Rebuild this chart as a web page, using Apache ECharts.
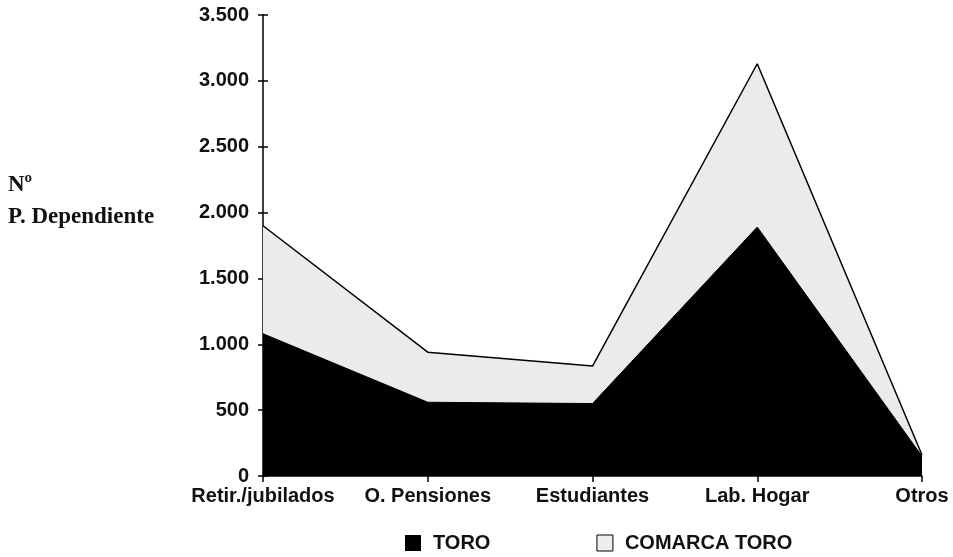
<!DOCTYPE html>
<html>
<head>
<meta charset="utf-8">
<script src="https://cdn.jsdelivr.net/npm/echarts@6/dist/echarts.min.js"></script>
<style>
html, body { margin: 0; padding: 0; background: #fff; }
#chart { width: 953px; height: 557px; }
</style>
</head>
<body>
<div id="chart"></div>
<script>
// datos
const categorias = ['Retir./jubilados', 'O. Pensiones', 'Estudiantes', 'Lab. Hogar', 'Otros'];
const toro = [1080, 560, 550, 1890, 150];
const comarcaToro = [1900, 940, 835, 3130, 160];
const yTicks = [0, 500, 1000, 1500, 2000, 2500, 3000, 3500];

const chart = echarts.init(document.getElementById('chart'));

const labelFont = {
  color: '#111',
  fontFamily: '"Liberation Sans", Arial, sans-serif',
  fontWeight: 'bold',
  fontSize: 20
};

function fmt(v) {
  return String(v).replace(/\B(?=(\d{3})+(?!\d))/g, '.');
}

chart.setOption({
  animation: false,
  grid: { left: 263, right: 31, top: 15, bottom: 81 },
  legend: {
    left: 405,
    top: 533,
    padding: 0,
    itemWidth: 16,
    itemHeight: 16,
    itemGap: 106,
    textStyle: Object.assign({}, labelFont, { fontSize: 20, padding: [0, 0, 0, 7] }),
    data: [
      { name: 'TORO', icon: 'rect', itemStyle: { color: '#000' } },
      { name: 'COMARCA TORO', icon: 'rect', itemStyle: { color: '#eeeeee', borderColor: '#000', borderWidth: 1 } }
    ]
  },
  xAxis: {
    type: 'category',
    boundaryGap: false,
    data: categorias,
    axisLine: { lineStyle: { color: '#000', width: 1.5 } },
    axisTick: { show: true, length: 6, lineStyle: { color: '#000', width: 1.5 } },
    axisLabel: Object.assign({}, labelFont, { margin: 10, interval: 0 }),
    splitLine: { show: false }
  },
  yAxis: [
    {
      type: 'value',
      min: 0,
      max: 3500,
      interval: 500,
      axisLine: { show: true, lineStyle: { color: '#000', width: 1.5 } },
      axisTick: { show: true, length: 5, lineStyle: { color: '#000', width: 1.5 } },
      axisLabel: Object.assign({}, labelFont, {
        margin: 14,
        formatter: v => yTicks.includes(v) ? fmt(v) : ''
      }),
      splitLine: { show: false }
    },
    {
      type: 'value',
      position: 'left',
      min: 0,
      max: 3500,
      interval: 500,
      axisLine: { show: false },
      axisTick: { show: true, inside: true, length: 5, lineStyle: { color: '#000', width: 1.5 } },
      axisLabel: { show: false },
      splitLine: { show: false }
    }
  ],
  graphic: [
    {
      type: 'text',
      left: 8,
      top: 169,
      style: {
        text: 'Nº\nP. Dependiente',
        fill: '#111',
        font: 'bold 23px "Liberation Serif", "Times New Roman", serif',
        lineHeight: 32
      }
    }
  ],
  series: [
    {
      name: 'COMARCA TORO',
      type: 'line',
      data: comarcaToro,
      symbol: 'none',
      z: 2,
      lineStyle: { color: '#000', width: 1.5 },
      itemStyle: { color: '#eeeeee' },
      areaStyle: { color: '#ebebeb', opacity: 1 }
    },
    {
      name: 'TORO',
      type: 'line',
      data: toro,
      symbol: 'none',
      z: 3,
      lineStyle: { color: '#000', width: 1 },
      itemStyle: { color: '#000' },
      areaStyle: { color: '#000', opacity: 1 }
    }
  ]
});
</script>
</body>
</html>
